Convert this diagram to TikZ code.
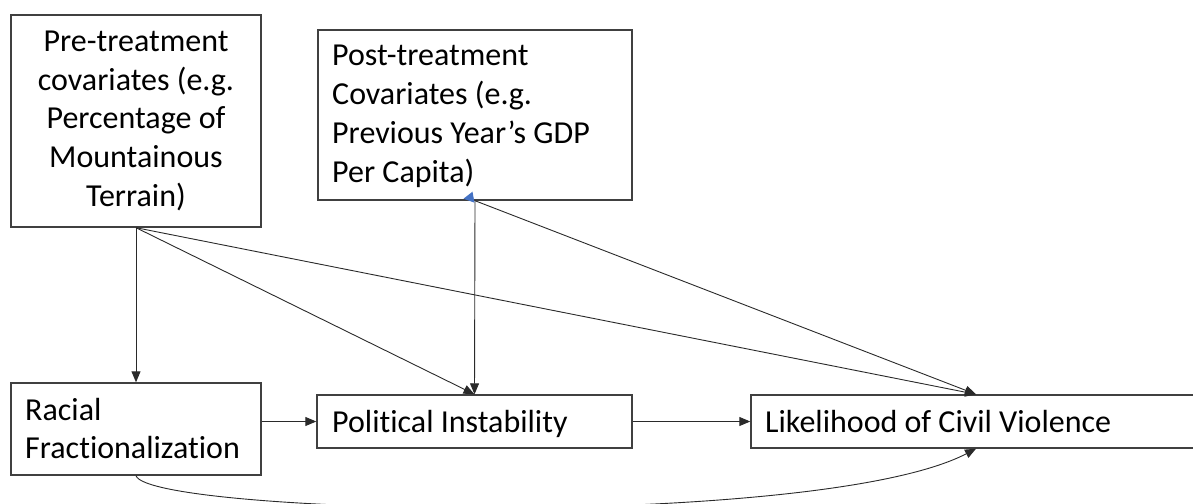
\documentclass[tikz,border=0pt]{standalone}
\usepackage{fontspec}
\setmainfont{Carlito}[RawFeature=-liga]
\usetikzlibrary{arrows.meta}
\definecolor{framegray}{HTML}{404040}
\definecolor{wiregray}{HTML}{2A2A2A}
\definecolor{tipblue}{HTML}{4472C4}
\begin{document}
\begin{tikzpicture}[x=1pt,y=-1pt,
  box/.style={draw=framegray, line width=1.4pt, inner sep=0pt, fill=white},
  lbl/.style={inner sep=0pt, text=black, font=\fontsize{32}{38.5}\selectfont},
  link/.style={draw=wiregray, line width=0.9pt, -{Triangle[length=11pt,width=9pt]}},
]
\clip (0,0) rectangle (1193,503);

% boxes
\node[box, minimum width=250pt, minimum height=212pt] (pre)  at (136,121)   {};
\node[box, minimum width=314pt, minimum height=170pt] (post) at (475,115)   {};
\node[box, minimum width=250pt, minimum height=92pt]  (race) at (136,429)   {};
\node[box, minimum width=315pt, minimum height=53pt]  (pol)  at (474.5,421.5) {};
\node[box, minimum width=450pt, minimum height=53pt]  (lik)  at (976,421.5) {};

% labels
\node[lbl, text width=250pt, align=flush center, anchor=base] (pretxt) at (136,52)
  {Pre-treatment\\covariates (e.g.\\Percentage of\\Mountainous\\Terrain)};
\node[lbl, font=\fontsize{32}{39.3}\selectfont, text width=300pt, align=flush left, anchor=base west] (posttxt) at (332,65)
  {Post-treatment\\Covariates (e.g.\\Previous Year’s GDP\\Per Capita)};
\node[lbl, text width=240pt, align=flush left, anchor=base west] (racetxt) at (25,420)
  {Racial\\Fractionalization};
\node[lbl, anchor=base west] (poltxt) at (332,432) {Political Instability};
\node[lbl, anchor=base west] (liktxt) at (765,432) {Likelihood of Civil Violence};

% connectors
\draw[link] (pre.south) -- (race.north);
\draw[link] (pre.south) -- (pol.north);
\draw[link] (pre.south) -- (lik.north);
\draw[link] (post.south) -- (pol.north);
\draw[link] (post.south) -- (lik.north);
\draw[link] (race.east |- pol.west) -- (pol.west);
\draw[link] (pol.east) -- (lik.west);
\draw[link] (race.south) .. controls (150,515) and (820,530) .. (lik.south);

% small blue tip at the foot of the post-treatment box
\fill[tipblue] ([shift={(-11.5,-2)}]post.south) -- ([shift={(-2.5,-9)}]post.south)
  -- ([shift={(-0.5,2)}]post.south) -- cycle;
\end{tikzpicture}
\end{document}
